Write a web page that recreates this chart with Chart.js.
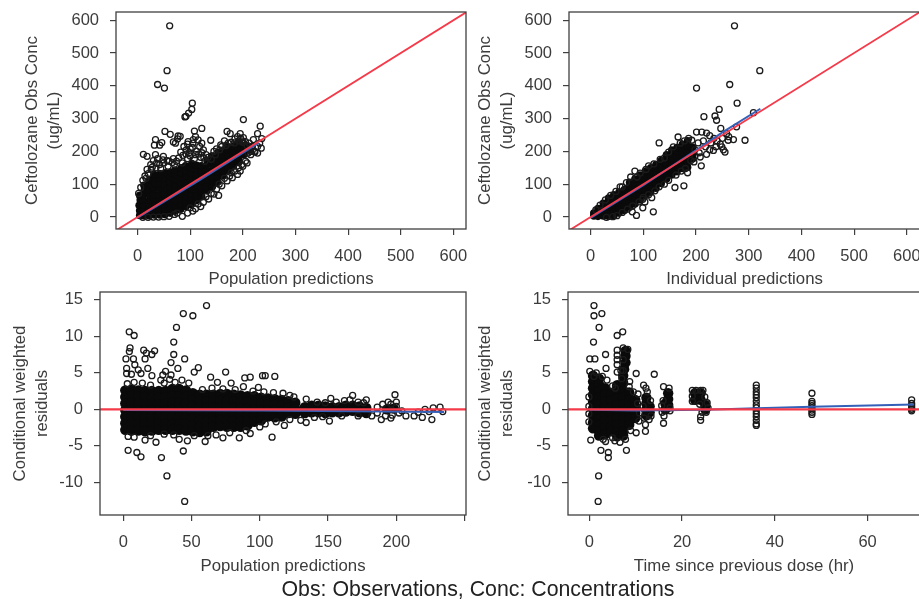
<!DOCTYPE html>
<html>
<head>
<meta charset="utf-8">
<script src="https://cdn.jsdelivr.net/npm/chart.js@4"></script>
<style>
html, body { margin: 0; padding: 0; background: #fff; overflow: hidden; width: 919px; height: 599px; }
canvas { position: absolute; filter: blur(0.45px); }
#caption { position: absolute; left: 0; width: 956px; top: 577px; text-align: center; font: 21.3px "Liberation Sans", sans-serif; line-height: 24px; color: #222; white-space: nowrap; }
</style>
</head>
<body>
<canvas id="popObsChart" width="490" height="289" style="left:0;top:0"></canvas>
<canvas id="ipredObsChart" width="460" height="289" style="left:468px;top:0"></canvas>
<canvas id="popResChart" width="490" height="291" style="left:0;top:285px"></canvas>
<canvas id="timeResChart" width="460" height="291" style="left:468px;top:285px"></canvas>
<div id="caption">Obs: Observations, Conc: Concentrations</div>
<script>
const concTicks = [0, 100, 200, 300, 400, 500, 600];
const resTicks = [-10, -5, 0, 5, 10, 15];
const popResXTicks = [0, 50, 100, 150, 200, 250];
const timeXTicks = [0, 20, 40, 60];

const identityLine = [[-60, -60], [650, 650]];
const zeroLinePop = [[-20, 0], [260, 0]];
const zeroLineTime = [[-6, 0], [75, 0]];
const popObsLoess = [[0, -2], [120, 115], [230, 226]];
const ipredObsLoess = [[0, -3], [100, 97], [200, 203], [250, 258], [322, 330]];
const popResLoess = [[0, -0.1], [100, -0.15], [235, -0.35]];
const timeResLoess = [[0, -0.05], [10, -0.15], [25, -0.05], [36, 0.15], [48, 0.35], [70, 0.65]];

// overplotted part of each cloud, solid in the picture
const popObsCore = [
  [4,5],[4,20],[3,36],[5,52],[4,66],
  [12,4],[12,20],[13,36],[11,52],[12,68],[13,84],[12,97],
  [22,4],[21,20],[22,36],[23,52],[22,68],[21,84],[22,100],[23,114],
  [32,6],[32,22],[33,38],[32,54],[31,70],[32,86],[33,102],[32,118],[31,130],
  [42,6],[42,22],[41,38],[42,54],[43,70],[42,86],[41,102],[42,118],[43,132],
  [52,8],[52,24],[53,40],[52,56],[51,72],[52,88],[53,104],[52,120],[53,135],
  [62,12],[62,28],[61,44],[62,60],[63,76],[62,92],[61,108],[62,124],[63,136],
  [72,18],[72,34],[73,50],[72,66],[71,82],[72,98],[73,114],[72,130],[71,143],
  [82,24],[82,40],[81,56],[82,72],[83,88],[82,104],[81,120],[82,136],[83,150],
  [92,32],[92,46],[93,62],[92,78],[91,94],[92,110],[93,126],[92,142],[91,156],
  [102,38],[102,54],[101,70],[102,86],[103,102],[102,118],[101,134],[102,150],[103,163],
  [112,50],[112,66],[113,82],[112,98],[111,114],[112,130],[113,146],[112,158],
  [122,62],[122,78],[121,94],[122,110],[123,126],[122,142],[121,156],
  [132,80],[132,96],[133,112],[132,128],[131,144],[132,160],[133,172],
  [142,92],[142,108],[141,124],[142,140],[143,156],[142,172],[141,186],
  [152,106],[152,121],[153,137],[152,153],[151,169],[152,185],[153,197],
  [162,125],[162,141],[161,157],[162,173],[163,189],[162,203],
  [172,140],[172,156],[173,172],[172,188],[171,204],[172,214],
  [182,155],[182,170],[181,186],[182,202],[183,217],
  [192,166],[192,180],[193,196],[192,212],[191,225],
  [202,190],[202,205],[203,218],[212,204],[212,215]
];
const popObsOpen = [
  [61,583],[56,446],[38,404],[51,393],[104,347],[103,328],[97,317],[90,305],[92,307],[201,297],
  [233,277],[228,254],[122,270],[108,262],[52,261],[62,252],[77,247],[81,246],[68,229],[34,236],
  [46,227],[42,219],[32,219],[11,191],[18,185],[34,190],[49,185],[139,234],[170,261],[176,254],
  [195,254],[201,242],[220,236],[236,239],[223,198],[228,195],[154,66],[85,2],[110,245],[115,235],
  [105,225],[95,222],[118,215],[122,225],[88,215],[100,208],[112,200],[125,205],[82,198],[92,192],
  [72,225],[76,238],[60,170],[68,178],[50,165],[42,160],[30,172],[38,178],[25,160],[18,145],
  [10,112],[14,125],[6,90],[2,72],[26,145],[35,150],[58,155],[165,232],[172,225],[185,238],
  [190,245],[198,232],[205,230],[212,225],[218,215],[228,215],[232,225],[215,200],[210,195],[235,210],
  [150,208],[158,220],[145,200],[130,190],[120,182],[108,178],[95,178],[85,165],[70,160],[60,2],
  [70,8],[95,12],[105,18],[110,25],[120,32],[125,45],[135,55],[145,70],[150,85],[160,95],
  [170,110],[180,120],[190,130],[195,140],[200,155],[205,170],[185,140],[175,125],[165,118],[155,100],
  [140,72],[130,62],[115,40],[100,28],[75,12],[50,1],[40,0],[30,0],[20,-1],[10,-1],
  [198,160],[208,165],[192,150],[178,135],[215,190],[222,200],
  [86,188],[92,204],[98,196],[104,212],[110,190],[116,192],[122,196],[106,236],[96,230],[100,186],
  [78,180],[74,170],[66,166],[56,172],[48,174],[44,148],[36,164],[28,152],[20,132],[16,118],
  [126,180],[134,182],[128,170],[140,176],[148,190],[156,205],[160,215],[168,218],[178,228],[184,226],
  [192,232],[200,228],[196,240],[208,218],[214,208]
];

const ipredObsCore = [
  [6,3],[6,12],[14,2],[14,14],[14,26],[24,3],[24,16],[24,30],[24,42],
  [34,2],[34,16],[34,32],[34,48],[34,58],[44,4],[44,20],[44,36],[44,52],[44,68],
  [54,12],[54,28],[54,44],[54,60],[54,76],[64,20],[64,36],[64,52],[64,68],[64,84],
  [74,30],[74,46],[74,62],[74,78],[74,94],[74,106],[84,40],[84,56],[84,72],[84,88],[84,104],[84,116],
  [94,52],[94,68],[94,84],[94,100],[94,116],[94,128],[104,66],[104,82],[104,98],[104,114],[104,130],[104,140],
  [114,76],[114,92],[114,108],[114,124],[114,140],[114,150],[124,88],[124,104],[124,120],[124,136],[124,150],[124,160],
  [134,102],[134,118],[134,134],[134,150],[134,166],[134,172],[144,116],[144,132],[144,148],[144,164],[144,180],[144,190],
  [154,128],[154,144],[154,160],[154,176],[154,192],[154,204],[164,138],[164,154],[164,170],[164,186],[164,202],[164,212],
  [174,148],[174,164],[174,180],[174,196],[174,212],[174,222],[184,152],[184,168],[184,184],[184,200],[184,216],[184,232],
  [194,178],[194,194],[194,212]
];
const ipredObsOpen = [
  [273,583],[321,446],[264,404],[201,393],[278,347],[244,328],[309,318],[215,306],[236,308],[239,295],
  [247,270],[277,275],[293,234],[271,236],[130,226],[166,244],[210,156],[177,95],[160,90],[119,16],
  [87,5],[79,16],[99,28],[116,59],[103,46],[99,54],[201,259],[211,259],[220,256],[258,254],
  [261,234],[255,198],[249,214],[233,203],[220,191],[208,183],[84,140],[105,145],[76,122],[56,92],
  [184,135],[157,214],[192,234],[226,248],[234,240],[240,232],[246,222],[228,226],[214,232],[204,226],
  [218,214],[226,205],[238,214],[252,205],[250,240],[262,245],[198,205],[206,196],[198,186],[190,172],
  [196,168],[180,148],[172,140],[162,128],[148,112],[140,100],[130,92],[122,80],[110,68],[100,60],
  [92,46],[80,34],[70,24],[60,14],[50,4],[42,1],[30,-1],[68,105],[60,92],[48,78],
  [38,66],[28,52],[18,36],[10,22],[120,162],[110,156],[140,180],[148,198],[132,176],[170,225],
  [178,232],[186,240],[94,134],[88,122]
];

const popResCore = [
  [1.5,2.6],[1.5,1.7],[1.5,0.8],[1.5,-0.1],[1.5,-1],[1.5,-1.9],[1.5,-2.8],
  [6,2.7],[6,1.8],[6,0.9],[6,0],[6,-1],[6,-1.9],[6,-2.9],
  [11,2.6],[11,1.7],[11,0.8],[11,-0.1],[11,-1],[11,-2],[11,-2.9],
  [16,2.5],[16,1.7],[16,0.8],[16,-0.1],[16,-1],[16,-2],[16,-3],
  [21,2.5],[21,1.6],[21,0.8],[21,-0.1],[21,-1],[21,-1.9],[21,-2.9],
  [26,2.5],[26,1.6],[26,0.7],[26,-0.1],[26,-1],[26,-2],[26,-2.8],
  [31,2.5],[31,1.6],[31,0.8],[31,-0.2],[31,-1.1],[31,-2],[31,-2.8],
  [36,2.8],[36,1.8],[36,0.9],[36,0],[36,-1],[36,-2],[36,-2.8],
  [41,2.8],[41,1.8],[41,0.9],[41,0],[41,-1],[41,-2],[41,-2.8],
  [46,2.6],[46,1.7],[46,0.8],[46,-0.1],[46,-1],[46,-2],[46,-2.9],
  [51,2.2],[51,1.4],[51,0.5],[51,-0.4],[51,-1.3],[51,-2.2],[51,-3],
  [56,2],[56,1.2],[56,0.3],[56,-0.6],[56,-1.5],[56,-2.4],[56,-3.1],
  [61,2],[61,1.1],[61,0.2],[61,-0.7],[61,-1.6],[61,-2.5],[61,-3],
  [66,2],[66,1.1],[66,0.2],[66,-0.7],[66,-1.6],[66,-2.4],
  [71,2.1],[71,1.2],[71,0.3],[71,-0.6],[71,-1.5],[71,-2.3],
  [76,2.1],[76,1.2],[76,0.3],[76,-0.6],[76,-1.5],[76,-2.4],
  [81,2],[81,1.1],[81,0.2],[81,-0.7],[81,-1.6],[81,-2.4],
  [86,1.9],[86,1],[86,0.1],[86,-0.8],[86,-1.7],[86,-2.4],
  [91,1.8],[91,1],[91,0.1],[91,-0.8],[91,-1.6],[91,-2.2],
  [96,1.8],[96,0.9],[96,0],[96,-0.9],[96,-1.7],
  [101,1.6],[101,0.8],[101,-0.1],[101,-1],[101,-1.5],
  [106,1.5],[106,0.7],[106,-0.1],[106,-1],[111,1.4],[111,0.6],[111,-0.2],[111,-1.1],
  [116,1.3],[116,0.5],[116,-0.3],[116,-1],[121,1.1],[121,0.3],[121,-0.5],[126,0.9],[126,0.1],[126,-0.6],
  [133,0.3],[133,-0.5],[138,0.5],[138,-0.4],[143,0.5],[143,-0.4],[148,0.4],[148,-0.5],[153,0.3],[153,-0.4],
  [158,0.3],[158,-0.4],[163,0.5],[163,-0.3],[168,0.5],[168,-0.2],[173,0.4],[173,-0.4],[178,0.2],[178,-0.5],
  [193,0],[198,0.1]
];
const popResOpen = [
  [61,14.2],[44,13.1],[51,12.8],[39,11.2],[4.4,10.6],[8,10.1],[37,9.2],[37,7.5],[45,6.9],[35,6.4],
  [40,5.6],[55,5.7],[52,5.1],[2,6.9],[5,8.4],[4.5,7.9],[7.5,6.9],[8.5,6.1],[2.5,5.6],[2.5,4.9],
  [6,4.8],[15,8.1],[17,7.7],[23,8],[21,7.5],[16,6.9],[18,5.6],[11,5.4],[13,4.9],[21,4.6],
  [31,5.2],[29,4.7],[27.5,4],[35,4.7],[64,4.4],[75,5.1],[69,3.7],[79,3.6],[89,4.3],[93,4.4],
  [102,4.6],[104,4.6],[111,4.5],[88,3.1],[99,3],[3.6,-5.6],[10,-5.9],[13,-6.5],[28,-6.6],[32,-9.1],
  [44,-5.7],[45,-12.6],[24,-4.5],[109,-3.8],[118,-2.2],[93,-3.3],[85,-3.9],[73,-3.9],[60,-4.4],[47,-4.3],
  [41,-4.1],[16,-4.2],[3.6,-3.7],[199,2],[168,1.9],[178,1.3],[194,1],[221,0],[227,0.2],[232,0.3],
  [234,-0.3],[226,-1.4],[219,-1.1],[213,-0.9],[207,-0.9],[189,-1.4],[196,-1.2],[186,0.3],[151,-1.6],[152,1.5],
  [134,1.4],[125,1.7],[130,-1.5],[134,-1.8],[8,3.7],[14,3.6],[3,3.5],[20,3.3],[30,3.6],[34,4.1],
  [38,3.7],[43,4],[48,3.6],[58,2.7],[65,2.9],[73,2.8],[82,2.7],[95,2.5],[103,2.4],[110,2.3],
  [117,2.2],[122,1.9],[8,-3.8],[20,-3.6],[30,-3.4],[37,-3.5],[52,-3.6],[62,-3.6],[68,-3.5],[78,-3.2],
  [90,-2.9],[100,-2.4],[104,-2],[112,-1.7],[122,-1.4],[140,-1.1],[146,-1],[160,-0.9],[172,-0.9],[182,-0.9],
  [142,1],[148,0.9],[156,1],[162,1.2],[166,1.3],[172,1],[176,0.9],[190,0.7],[196,0.7],[200,1],
  [186,-0.5],[192,-0.9],[197,-0.8],[202,-0.5],[200,0.4],[204,-0.2],[224,-0.3],[216,-0.4]
];

const timeResCore = [
  [0.8,4.6],[0.8,3.8],[0.8,2.9],[0.8,2],[0.8,1],[0.8,0.1],[0.8,-0.8],[0.8,-1.8],[0.8,-2.6],
  [2.1,4.2],[2.1,3.4],[2.1,2.5],[2.1,1.6],[2.1,0.7],[2.1,-0.2],[2.1,-1.2],[2.1,-2.1],[2.1,-3],[2.1,-3.6],
  [3.4,2.9],[3.4,2],[3.4,1.1],[3.4,0.2],[3.4,-0.7],[3.4,-1.6],[3.4,-2.5],[3.4,-3.4],
  [4.7,2.1],[4.7,1.2],[4.7,0.3],[4.7,-0.6],[4.7,-1.5],[4.7,-2.4],[4.7,-3],
  [6,3.3],[6,2.4],[6,1.5],[6,0.6],[6,-0.3],[6,-1.2],[6,-2.1],[6,-3],[6,-3.7],
  [7.3,4.6],[7.3,3.6],[7.3,2.6],[7.3,1.6],[7.3,0.7],[7.3,-0.3],[7.3,-1.2],[7.3,-2.1],[7.3,-3],[7.3,-3.6],
  [7.8,8],[7.8,7.3],[7.8,6.4],[7.5,5.5],
  [8.6,2.3],[8.6,1.4],[8.6,0.5],[8.6,-0.4],[8.6,-1.3],[8.6,-2.1],
  [9.9,1.3],[9.9,0.4],[9.9,-0.5],[9.9,-1.2],
  [12.3,1.6],[12.3,0.8],[12.3,0],[12.3,-0.8],[13,0.4],[13,-0.4],
  [16.4,0.8],[16.4,0],[17,2.2],[17,1.4],[17,0.6],
  [22.8,2.2],[22.8,1.3],[24,2.2],[24,1.3],[25,0.6],[25,0]
];
const timeResOpen = [
  [1,14.2],[2.7,13.1],[1,12.8],[2.1,11.2],[0.9,9.2],[0.1,6.9],[1.2,6.9],[3.5,7.5],[3.6,5.6],[0.1,5.2],
  [6,10.1],[7.2,10.6],[10.1,4.9],[14,4.8],[2,-9.1],[1.9,-12.6],[2.5,-5.6],[4.1,-5.9],[4.1,-6.6],[8,-5.6],
  [0.3,-4.2],[3.5,-4.4],[6.6,-4.5],[10.1,-3.2],[12.1,-3],[12.1,-2.1],[6,8.1],[6,7.4],[6,6.8],[6,6.1],
  [6,5.1],[7.3,8.4],[8.3,8.2],[7.3,6.8],[7.3,5.3],[8.7,3.8],[7,4.2],[1.5,5],[1,4.5],[2.8,4.5],
  [3.8,4],[5,3.2],[5.6,2.9],[6.8,5.3],[8.6,3.1],[9.5,2.4],[10.5,2.1],[10.7,-1.6],[10.4,0.8],[10.8,-0.5],
  [-0.1,1.7],[-0.1,-1.7],[-0.1,0.4],[-0.1,-0.6],[3,-4.1],[5,-3.9],[5.5,-4.3],[7.8,-4.1],[8.9,-2.9],
  [11.7,3.3],[12.2,2.9],[12.5,2.4],[11.6,0.4],[13.2,1.2],[13.3,-0.9],[12.9,-1.4],[11.8,-1.2],
  [16,3.1],[17.2,2.9],[15.9,1.2],[15.6,0.5],[15.7,-0.4],[16,-1.9],[16.1,-0.9],[17.4,-0.2],[17.4,0.2],
  [22.2,2.6],[23,2.6],[24,2.6],[24.5,2.6],[22.2,1.1],[22.2,1.8],[24.9,1.7],[25.4,0.9],[25.6,0.2],[24,-1],
  [24,-1.5],[24.3,-0.4],[25.2,-0.4],[23.8,0.7],
  [36,3.3],[36,2.9],[36,2.4],[36,2],[36,1.6],[36,1.1],[36,0.6],[36,0.2],[36,-0.2],[36,-0.6],
  [36,-1],[36,-1.5],[36,-2],[36,-2.2],
  [48,2.2],[48,1.1],[48,0.8],[48,0.5],[48,0.2],[48,-0.1],[48,-0.4],[48,-0.7],
  [69.5,1.3],[69.5,0.8],[69.5,0.5],[69.5,0.2],[69.5,0],[69.5,-0.2]
];

const red = '#f53a4a';
const blue = '#3560b8';
const ink = '#3c3c3c';

const boxPlugin = {
  id: 'box',
  afterDraw(chart) {
    const a = chart.chartArea;
    chart.ctx.save();
    chart.ctx.strokeStyle = '#404040';
    chart.ctx.lineWidth = 1.3;
    chart.ctx.strokeRect(a.left, a.top, a.right - a.left, a.bottom - a.top);
    chart.ctx.restore();
  }
};

// the box has to land on fixed pixels, so drop the room chart.js keeps for overhanging labels
function noOverhang(s) {
  s.paddingLeft = s.paddingRight = s.paddingTop = s.paddingBottom = 0;
}

function drawPanel(id, p) {
  return new Chart(document.getElementById(id), {
    type: 'scatter',
    data: {
      datasets: [
        { data: p.ref, showLine: true, borderColor: red, borderWidth: p.refWidth, pointRadius: 0 },
        { data: p.loess, showLine: true, borderColor: blue, borderWidth: 2, pointRadius: 0 },
        { data: p.open, pointRadius: 3, borderWidth: 1.3, borderColor: '#1a1a1a', backgroundColor: 'transparent' },
        { data: p.core, pointRadius: p.coreRadius, borderWidth: 0, backgroundColor: '#0a0a0a' }
      ]
    },
    options: {
      responsive: false,
      animation: false,
      layout: { padding: { top: p.top, right: p.right, left: 0, bottom: 0 } },
      plugins: { legend: { display: false }, tooltip: { enabled: false } },
      scales: {
        x: {
          type: 'linear',
          min: p.xMin, max: p.xMax,
          afterBuildTicks(s) { s.ticks = p.xTicks.map(v => ({ value: v })); },
          afterFit(s) { s.height = p.xHeight; noOverhang(s); },
          border: { display: false },
          grid: { drawOnChartArea: false, tickLength: 6, color: '#404040', lineWidth: 1.2 },
          ticks: {
            autoSkip: false, maxRotation: 0, padding: 12, color: ink,
            font: { family: 'Liberation Sans', size: 16.5 },
            callback: v => (v === 250 ? '' : v)
          },
          title: {
            display: true, text: p.xTitle, color: ink,
            font: { family: 'Liberation Sans', size: 16.8 },
            padding: { top: 0, bottom: 0 }
          }
        },
        y: {
          type: 'linear',
          min: p.yMin, max: p.yMax,
          afterBuildTicks(s) { s.ticks = p.yTicks.map(v => ({ value: v })); },
          afterFit(s) { s.width = p.yWidth; noOverhang(s); },
          border: { display: false },
          grid: { drawOnChartArea: false, tickLength: 6, color: '#404040', lineWidth: 1.2 },
          ticks: {
            autoSkip: false, padding: 11, color: ink,
            font: { family: 'Liberation Sans', size: 16.5 }
          },
          title: {
            display: true, text: p.yTitle, color: ink,
            font: { family: 'Liberation Sans', size: 16.8, lineHeight: 1.31 },
            padding: { top: p.yTitlePad, bottom: 0 }
          }
        }
      }
    },
    plugins: [boxPlugin]
  });
}

drawPanel('popObsChart', {
  core: popObsCore, open: popObsOpen, ref: identityLine, loess: popObsLoess,
  refWidth: 1.8, coreRadius: 3.8,
  xMin: -41, xMax: 624, yMin: -36.5, yMax: 625,
  xTicks: concTicks, yTicks: concTicks,
  xTitle: 'Population predictions', yTitle: ['Ceftolozane Obs Conc', '(ug/mL)'],
  top: 12, right: 24, xHeight: 60, yWidth: 116, yTitlePad: 21
});
drawPanel('ipredObsChart', {
  core: ipredObsCore, open: ipredObsOpen, ref: identityLine, loess: ipredObsLoess,
  refWidth: 1.8, coreRadius: 3.8,
  xMin: -41, xMax: 625, yMin: -36.5, yMax: 625,
  xTicks: concTicks, yTicks: concTicks,
  xTitle: 'Individual predictions', yTitle: ['Ceftolozane Obs Conc', '(ug/mL)'],
  top: 12, right: 8, xHeight: 60, yWidth: 101, yTitlePad: 6
});
drawPanel('popResChart', {
  core: popResCore, open: popResOpen, ref: zeroLinePop, loess: popResLoess,
  refWidth: 2.2, coreRadius: 5.2,
  xMin: -17, xMax: 251, yMin: -14.45, yMax: 16.05,
  xTicks: popResXTicks, yTicks: resTicks,
  xTitle: 'Population predictions', yTitle: ['Conditional weighted', 'residuals'],
  top: 7, right: 24, xHeight: 61, yWidth: 100, yTitlePad: 9
});
drawPanel('timeResChart', {
  core: timeResCore, open: timeResOpen, ref: zeroLineTime, loess: timeResLoess,
  refWidth: 2.2, coreRadius: 5.2,
  xMin: -4.6, xMax: 71.3, yMin: -14.45, yMax: 16.05,
  xTicks: timeXTicks, yTicks: resTicks,
  xTitle: 'Time since previous dose (hr)', yTitle: ['Conditional weighted', 'residuals'],
  top: 7, right: 8, xHeight: 61, yWidth: 100, yTitlePad: 6
});
</script>
</body>
</html>
